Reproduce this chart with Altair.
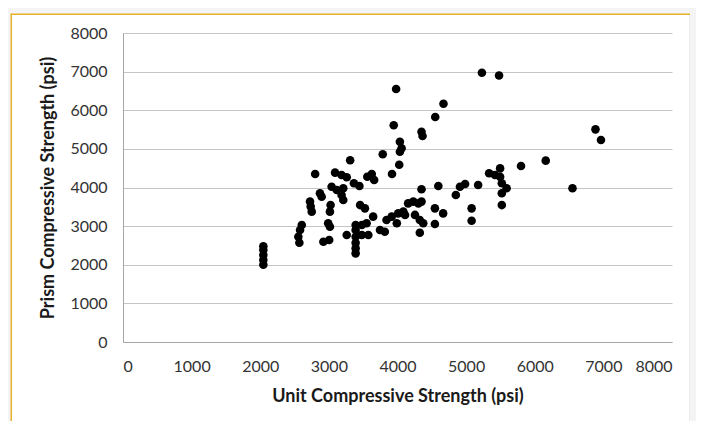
import altair as alt
import pandas as pd

# Unit compressive strength (psi) vs prism compressive strength (psi)
unit_psi = [
    5230, 5480, 3980, 4670, 4550, 3945, 4350, 4365, 4035, 4060,
    4035, 3785, 4025, 3920, 3310, 2800, 3090, 3185, 3260, 3560,
    3625, 3660, 3365, 3445, 3040, 3115, 3210, 2870, 2895, 3185,
    3210, 2725, 2735, 2750, 3025, 3015, 3455, 3525, 3645, 2990,
    3015, 2605, 2580, 2555, 2570, 2920, 3005, 3260, 3390, 3390,
    3390, 3390, 3390, 3390, 3480, 3550, 3575, 3480, 3745, 3815,
    3840, 3915, 3990, 4010, 4085, 4110, 4155, 4230, 4305, 4350,
    4350, 4255, 4325, 4375, 4325, 4545, 4665, 4545, 4595, 4850,
    4910, 4985, 5080, 5080, 5175, 5335, 5420, 5495, 5495, 5520,
    5590, 5520, 5520, 5800, 6160, 6550, 6885, 6965, 2045, 2045,
    2045, 2045, 2045,
]
prism_psi = [
    6970, 6900, 6550, 6170, 5825, 5610, 5445, 5335, 5185, 5015,
    4925, 4860, 4590, 4350, 4705, 4350, 4385, 4325, 4265, 4280,
    4350, 4195, 4110, 4040, 4020, 3935, 3980, 3850, 3760, 3805,
    3675, 3635, 3505, 3375, 3545, 3375, 3545, 3460, 3245, 3075,
    2985, 3030, 2900, 2725, 2570, 2595, 2640, 2770, 3030, 2900,
    2725, 2570, 2425, 2295, 3030, 3075, 2770, 2770, 2900, 2855,
    3160, 3245, 3075, 3330, 3375, 3290, 3590, 3635, 3590, 3635,
    3955, 3290, 3160, 3075, 2830, 3460, 3330, 3055, 4040, 3805,
    4020, 4090, 3460, 3140, 4065, 4370, 4325, 4495, 4280, 4110,
    3980, 3850, 3545, 4555, 4695, 3980, 5505, 5230, 2480, 2380,
    2250, 2120, 2000,
]
axis_ticks = [0, 1000, 2000, 3000, 4000, 5000, 6000, 7000, 8000]

df = pd.DataFrame({"unit": unit_psi, "prism": prism_psi})
one = pd.DataFrame({"k": [0]})

FONT = "Lato"
GREY_BG = "#f4f4f4"
GOLD = "#e8b12c"


def strip(x, x2, y, y2, color):
    return alt.Chart(one).mark_rect(color=color).encode(
        x=alt.value(x), x2=alt.value(x2), y=alt.value(y), y2=alt.value(y2)
    )


frame = [
    strip(-115, 573, -25, -19, GREY_BG),
    strip(-115, -112, -25, 388, GREY_BG),
    strip(567, 573, -25, 388, GREY_BG),
    strip(-112, 567, -19.5, -18, GOLD),
    strip(-112.5, -111, -19.5, 388, GOLD),
    strip(566.5, 567, -18, 388, "#d8d8d8"),
]

points = alt.Chart(df).mark_circle(size=74, color="black", opacity=1).encode(
    x=alt.X(
        "unit:Q",
        scale=alt.Scale(domain=[0, 8000], nice=False, zero=True),
        axis=alt.Axis(
            values=axis_ticks, format="d", grid=False,
            title="Unit Compressive Strength (psi)",
            labelPadding=16, titlePadding=13,
        ),
    ),
    y=alt.Y(
        "prism:Q",
        scale=alt.Scale(domain=[0, 8000], nice=False, zero=True),
        axis=alt.Axis(
            values=axis_ticks, format="d", grid=True,
            title="Prism Compressive Strength (psi)",
            labelPadding=16, titlePadding=12,
        ),
    ),
)

chart = alt.layer(*frame, points).properties(
    width=549,
    height=309,
    autosize=alt.AutoSizeParams(type="none"),
    padding={"left": 115, "top": 25, "right": 24, "bottom": 79},
    background="white",
).configure_view(stroke=None).configure_axis(
    domainColor="#a6a6a6",
    domainWidth=1,
    gridColor="#c4c4c4",
    gridWidth=1,
    ticks=False,
    labelFont=FONT,
    labelFontSize=16,
    labelColor="#333333",
    titleFont=FONT,
    titleFontSize=18,
    titleFontWeight="bold",
    titleColor="#1a1a1a",
)

chart.save("out.html", embed_options={"renderer": "svg", "actions": False})
